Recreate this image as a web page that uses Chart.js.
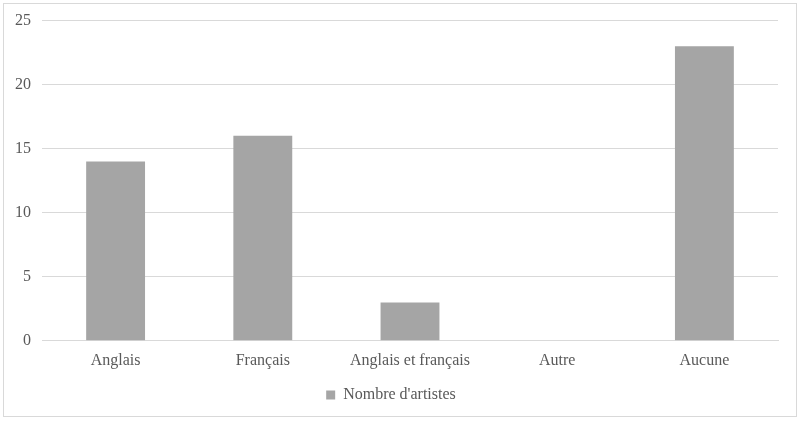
<!DOCTYPE html>
<html>
<head>
<meta charset="utf-8">
<script src="https://cdn.jsdelivr.net/npm/chart.js@4"></script>
<style>
  html, body { margin: 0; padding: 0; background: #fff; }
  #frame {
    position: absolute; left: 3px; top: 3px;
    width: 794px; height: 414px; overflow: hidden;
    box-sizing: border-box; border: 1px solid #d9d9d9;
  }
  #chart { display: block; margin-top: -4px; }
</style>
</head>
<body>
<div id="frame"><canvas id="chart" width="792" height="416"></canvas></div>
<script>
// ── Data ──────────────────────────────────────────────────
const categories = ['Anglais', 'Français', 'Anglais et français', 'Autre', 'Aucune'];
const artistCounts = [14, 16, 3, 0, 23];
const seriesLabel = "Nombre d'artistes";
const yTicks = [0, 5, 10, 15, 20, 25];

const TEXT = '#595959';
const FONT = { family: "'Liberation Serif', 'Times New Roman', serif", size: 16 };

new Chart(document.getElementById('chart'), {
  type: 'bar',
  data: {
    labels: categories,
    datasets: [{
      label: seriesLabel,
      data: artistCounts,
      backgroundColor: '#a5a5a5',
      borderWidth: 0,
      categoryPercentage: 1,
      barPercentage: 0.4,
    }],
  },
  options: {
    responsive: false,
    animation: false,
    layout: { padding: { left: 0, right: 18, top: 0, bottom: 3 } },
    plugins: {
      tooltip: { enabled: false },
      legend: {
        position: 'bottom',
        labels: { color: TEXT, font: FONT, boxWidth: 9, boxHeight: 9, padding: 7 },
      },
    },
    scales: {
      x: {
        grid: { display: false, drawTicks: false },
        border: { color: '#d9d9d9' },
        ticks: { color: TEXT, font: FONT, padding: 10, maxRotation: 0 },
      },
      y: {
        min: 0, max: 25,
        afterBuildTicks: axis => { axis.ticks = yTicks.map(v => ({ value: v })); },
        grid: { color: '#d9d9d9', drawTicks: false },
        border: { display: false },
        ticks: { color: TEXT, font: FONT, padding: 11 },
      },
    },
  },
});
</script>
</body>
</html>
